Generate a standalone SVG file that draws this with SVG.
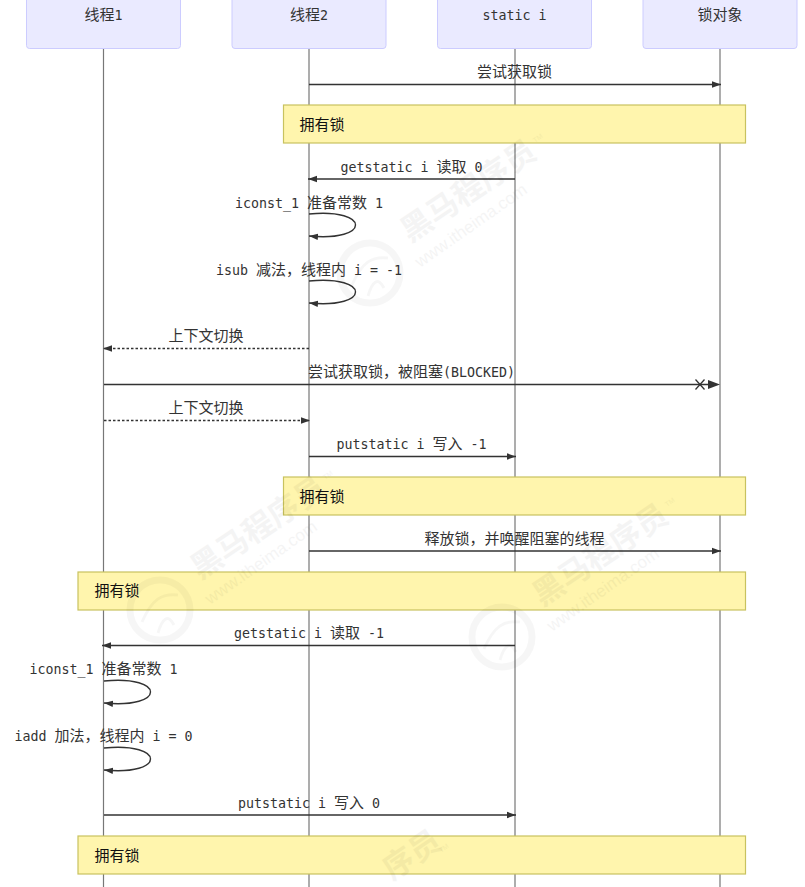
<svg xmlns="http://www.w3.org/2000/svg" width="805" height="887" viewBox="0 0 805 887">
<style>
text{font-family:"DejaVu Sans Mono","Noto Sans CJK SC",monospace;font-size:13.3px;fill:#333;text-anchor:middle}
tspan.c{font-family:"Noto Sans CJK SC",sans-serif;font-size:15px}
.actor{fill:#eaeaff;stroke:#ccf;stroke-width:1}
.life{stroke:#777;stroke-width:1.2;fill:none}
.note{fill:#fff5ad;stroke:#c8c25f;stroke-width:1.2}
.nt{text-anchor:start;fill:#111}
.msg{stroke:#333;stroke-width:1.4;fill:none}
.dash{stroke-dasharray:2.5 2}
.wm{fill:#000;opacity:.04;font-family:"Noto Sans CJK SC",sans-serif;font-weight:700;font-size:31px;text-anchor:start}
.wm2{fill:#000;opacity:.04;font-family:"Liberation Sans",sans-serif;font-size:17px;text-anchor:start}
.wm3{fill:#000;opacity:.04;font-family:"Liberation Sans",sans-serif;font-size:7px;text-anchor:start}
.ring{fill:none;stroke:#000;opacity:.035;stroke-width:7}
.horse{fill:none;stroke:#000;opacity:.035;stroke-width:3}
</style>
<defs>
<marker id="a" markerUnits="userSpaceOnUse" markerWidth="10" markerHeight="8" refX="9" refY="4" orient="auto"><path d="M0 .8L9 4L0 7.2z" fill="#333"/></marker>
</defs>
<g id="lifelines">
<path class="life" d="M103.500 48V887M309 48V887M515 48V887M720 48V887"/>
</g>
<g id="actor1"><rect class="actor" x="26.500" y="-10" width="154" height="58.500" rx="3"/><text x="103.500" y="20"><tspan class="c">线程</tspan>1</text></g>
<g id="actor2"><rect class="actor" x="232" y="-10" width="154" height="58.500" rx="3"/><text x="309" y="20"><tspan class="c">线程</tspan>2</text></g>
<g id="actor3"><rect class="actor" x="437.500" y="-10" width="154" height="58.500" rx="3"/><text x="514.500" y="20">static i</text></g>
<g id="actor4"><rect class="actor" x="643" y="-10" width="154" height="58.500" rx="3"/><text x="720" y="20"><tspan class="c">锁对象</tspan></text></g>
<g id="note1"><rect class="note" x="283.500" y="105" width="462" height="38"/><text class="nt" x="299.500" y="130"><tspan class="c">拥有锁</tspan></text></g>
<g id="note2"><rect class="note" x="283.500" y="477" width="462" height="38"/><text class="nt" x="299.500" y="502"><tspan class="c">拥有锁</tspan></text></g>
<g id="note3"><rect class="note" x="78" y="572" width="667.500" height="38"/><text class="nt" x="94.500" y="596"><tspan class="c">拥有锁</tspan></text></g>
<g id="note4"><rect class="note" x="78" y="836" width="667.500" height="38"/><text class="nt" x="94.500" y="861"><tspan class="c">拥有锁</tspan></text></g>
<g id="connectors">
<path class="msg" marker-end="url(#a)" d="M309 84.500H721"/>
<path class="msg" marker-end="url(#a)" d="M515 179H308"/>
<path class="msg" marker-end="url(#a)" d="M309 214C371 208 371 242 309 236"/>
<path class="msg" marker-end="url(#a)" d="M309 281C371 275 371 309 309 303"/>
<path class="msg dash" marker-end="url(#a)" d="M309 348.500H103"/>
<path class="msg" d="M104 384.500H709"/>
<path d="M708 380L720 384.500L708 389z" fill="#333"/>
<path d="M695.500 379.500L704.500 389.500M704.500 379.500L695.500 389.500" stroke="#333" stroke-width="1.300" fill="none"/>
<path class="msg dash" marker-end="url(#a)" d="M104 420.500H310"/>
<path class="msg" marker-end="url(#a)" d="M309 456.500H516"/>
<path class="msg" marker-end="url(#a)" d="M309 551H721"/>
<path class="msg" marker-end="url(#a)" d="M515 645.500H102"/>
<path class="msg" marker-end="url(#a)" d="M104 681C166 675 166 709 104 703"/>
<path class="msg" marker-end="url(#a)" d="M104 748C166 742 166 776 104 770"/>
<path class="msg" marker-end="url(#a)" d="M104 815H516"/>
</g>
<g id="labels">
<text x="514.500" y="77"><tspan class="c">尝试获取锁</tspan></text>
<text x="411.500" y="172">getstatic i <tspan class="c">读取</tspan> 0</text>
<text x="309" y="208">iconst_1 <tspan class="c">准备常数</tspan> 1</text>
<text x="309" y="275">isub <tspan class="c">减法，线程内</tspan> i = -1</text>
<text x="206" y="341"><tspan class="c">上下文切换</tspan></text>
<text x="411.500" y="377"><tspan class="c">尝试获取锁，被阻塞</tspan>(BLOCKED)</text>
<text x="206" y="413"><tspan class="c">上下文切换</tspan></text>
<text x="411.500" y="449">putstatic i <tspan class="c">写入</tspan> -1</text>
<text x="514.500" y="544"><tspan class="c">释放锁，并唤醒阻塞的线程</tspan></text>
<text x="309" y="638">getstatic i <tspan class="c">读取</tspan> -1</text>
<text x="103.500" y="674">iconst_1 <tspan class="c">准备常数</tspan> 1</text>
<text x="103.500" y="741">iadd <tspan class="c">加法，线程内</tspan> i = 0</text>
<text x="309" y="808">putstatic i <tspan class="c">写入</tspan> 0</text>
</g>
<g id="watermark">
<circle class="ring" cx="370" cy="273" r="30"/><path class="horse" d="M352 285C362 262 372 256 388 258M368 296C372 282 378 276 384 288"/>
<text class="wm" transform="translate(410 243) rotate(-34)">黑马程序员</text>
<text class="wm2" transform="translate(420 268) rotate(-35)">www.itheima.com</text>
<text class="wm3" transform="translate(535 143) rotate(-35)">TM</text>
<circle class="ring" cx="160" cy="610" r="30"/><path class="horse" d="M142 622C152 599 162 593 178 595M158 633C162 619 168 613 174 625"/>
<text class="wm" transform="translate(200 580) rotate(-34)">黑马程序员</text>
<text class="wm2" transform="translate(210 605) rotate(-35)">www.itheima.com</text>
<text class="wm3" transform="translate(325 480) rotate(-35)">TM</text>
<circle class="ring" cx="502" cy="637" r="30"/><path class="horse" d="M484 649C494 626 504 620 520 622M500 660C504 646 510 640 516 652"/>
<text class="wm" transform="translate(542 607) rotate(-34)">黑马程序员</text>
<text class="wm2" transform="translate(552 632) rotate(-35)">www.itheima.com</text>
<text class="wm3" transform="translate(667 507) rotate(-35)">TM</text>
<text class="wm" transform="translate(392 881) rotate(-34)">序员</text>
<text class="wm3" transform="translate(441 853) rotate(-35)">TM</text>
</g>
</svg>
